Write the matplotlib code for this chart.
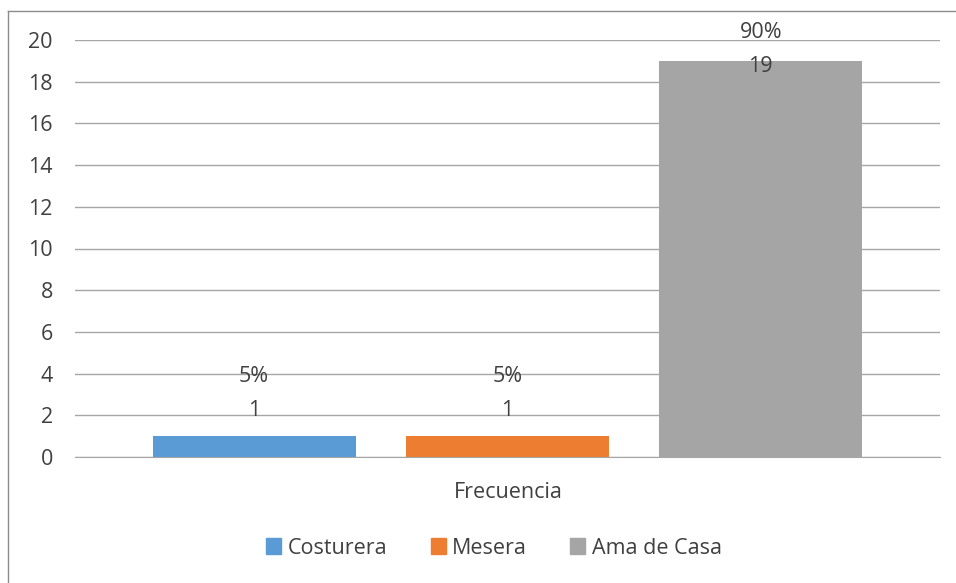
import numpy as np
import matplotlib.pyplot as plt
from matplotlib.lines import Line2D

# data
categories = ["Costurera", "Mesera", "Ama de Casa"]
counts = [1, 1, 19]
percents = ["5%", "5%", "90%"]
colors = ["#5B9BD5", "#ED7D31", "#A5A5A5"]
y_ticks = list(range(0, 21, 2))
group_label = "Frecuencia"

plt.rcParams["font.family"] = ["Open Sans", "DejaVu Sans"]
TXT = "#404040"
FS = 15.5

W, H = 956, 583
fig = plt.figure(figsize=(W / 100, H / 100), dpi=100)
# plot area in pixels: x 75..940, y 40 (20) .. 457 (0)
ax = fig.add_axes([75 / W, 1 - 457 / H, (940 - 75) / W, (457 - 40) / H])

bar_w = 0.8
x = np.arange(len(categories))
for xi, c, col, name in zip(x, counts, colors, categories):
    ax.bar(xi, c, width=bar_w, color=col, label=name, zorder=2)

# group spans ~82% of the axis width
span = (len(categories) - 1) + bar_w
pad = span * (1 / 0.82 - 1) / 2
ax.set_xlim(-bar_w / 2 - pad, len(categories) - 1 + bar_w / 2 + pad)
ax.set_ylim(0, 20)

# data labels: like Excel, pushed down when they would leave the chart
for xi, c, p in zip(x, counts, percents):
    top_px = H - ax.transData.transform((xi, c))[1]
    off = min(60, top_px - 32)
    ax.annotate(p, xy=(xi, c), xytext=(0, off), textcoords="offset pixels",
                ha="center", va="center", fontsize=FS, color=TXT, zorder=3,
                annotation_clip=False)
    ax.annotate(str(c), xy=(xi, c), xytext=(0, off - 34), textcoords="offset pixels",
                ha="center", va="center", fontsize=FS, color=TXT, zorder=3,
                annotation_clip=False)

ax.set_yticks(y_ticks)
ax.tick_params(axis="y", length=0, pad=16, labelsize=FS, labelcolor=TXT)
ax.set_xticks([])
ax.grid(axis="y", color="#A6A6A6", linewidth=1, zorder=0)
for s in ["top", "right", "left"]:
    ax.spines[s].set_visible(False)
ax.spines["bottom"].set_color("#A6A6A6")

fig.text(508 / W, 1 - 492 / H, group_label, ha="center", va="center",
         fontsize=FS, color=TXT)

handles = [plt.Rectangle((0, 0), 1, 1, color=c) for c in colors]
fig.legend(handles, categories, loc="center", bbox_to_anchor=(494 / W, 1 - 548 / H),
           ncol=3, frameon=False, fontsize=FS, handlelength=0.7, handleheight=0.7,
           handletextpad=0.3, columnspacing=2.0, labelcolor=TXT)

# screenshot border (left and top edges)
fig.add_artist(Line2D([8 / W, 8 / W], [0, 1 - 11 / H], color="#8C8C8C", lw=1,
                      transform=fig.transFigure))
fig.add_artist(Line2D([8 / W, 1], [1 - 11 / H, 1 - 11 / H], color="#8C8C8C", lw=1,
                      transform=fig.transFigure))

fig.savefig("out.png", dpi=100)
